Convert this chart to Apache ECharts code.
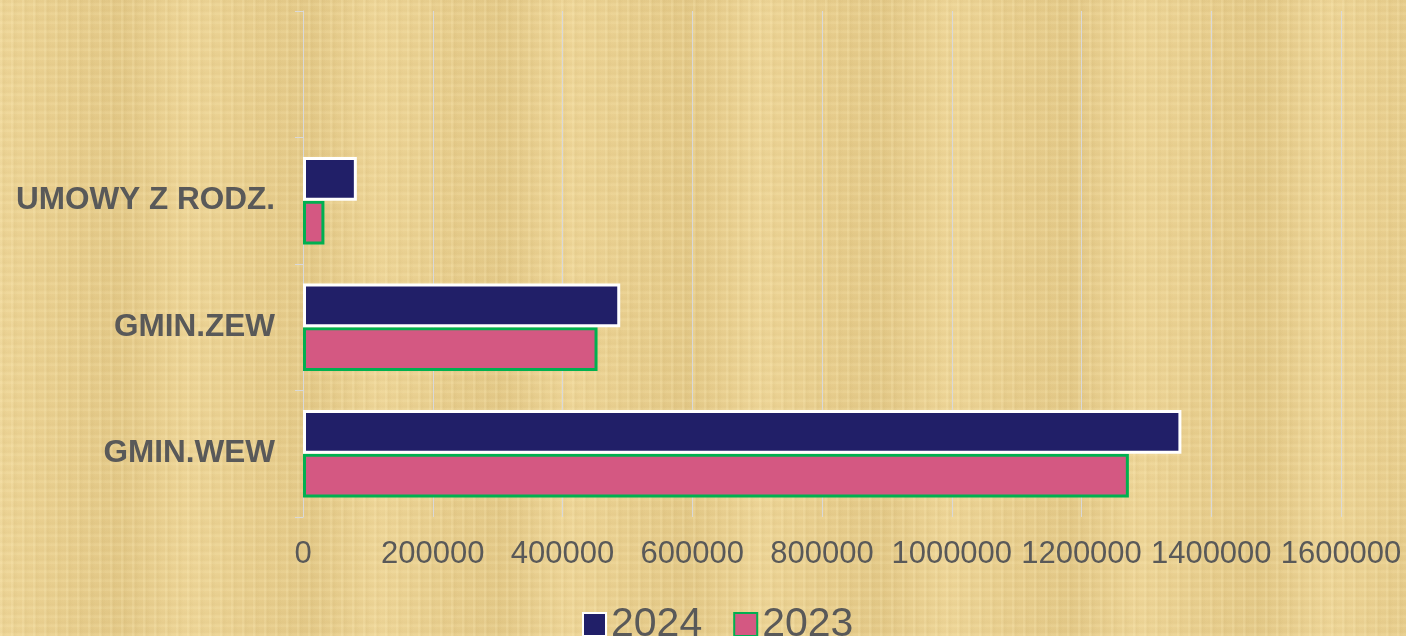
<!DOCTYPE html>
<html>
<head>
<meta charset="utf-8">
<script src="https://cdn.jsdelivr.net/npm/echarts@6/dist/echarts.min.js"></script>
<style>
  html, body { margin: 0; padding: 0; }
  #chart {
    width: 1406px; height: 636px;
    background-color: #E8CE8E;
    background-image:
      repeating-linear-gradient(90deg, rgba(255,240,190,0.18) 0px, rgba(255,240,190,0.18) 2px, rgba(190,160,90,0.10) 3px, rgba(190,160,90,0) 7px, rgba(255,240,190,0) 11px),
      repeating-linear-gradient(0deg, rgba(255,240,190,0.12) 0px, rgba(255,240,190,0.12) 2px, rgba(190,160,90,0.08) 4px, rgba(190,160,90,0) 9px),
      repeating-linear-gradient(90deg, rgba(255,235,180,0.25) 0px, rgba(255,235,180,0) 60px, rgba(200,170,100,0.15) 120px, rgba(255,235,180,0.25) 190px);
  }
</style>
</head>
<body>
<div id="chart"></div>
<script>
const categories = ['GMIN.WEW', 'GMIN.ZEW', 'UMOWY Z RODZ.', ''];
const values2024 = [1354000, 489000, 83000, null];
const values2023 = [1273000, 454000, 33000, null];
const xTicks = [0, 200000, 400000, 600000, 800000, 1000000, 1200000, 1400000, 1600000];

const chart = echarts.init(document.getElementById('chart'), null, { renderer: 'canvas' });
chart.setOption({
  backgroundColor: 'transparent',
  animation: false,
  grid: { left: 303, right: 65, top: 11, bottom: 119, containLabel: false, outerBoundsMode: 'none' },
  legend: {
    left: 577, top: 599,
    icon: 'rect',
    itemWidth: 23, itemHeight: 23, itemGap: 31,
    textStyle: { fontSize: 41, color: '#595959', fontFamily: 'Liberation Sans, Arial, sans-serif' },
    data: ['2024', '2023']
  },
  xAxis: {
    type: 'value',
    min: xTicks[0], max: xTicks[xTicks.length - 1], interval: 200000,
    axisLine: { show: false },
    axisTick: { show: false },
    splitLine: { show: true, lineStyle: { color: '#D9D9D9', width: 1 } },
    axisLabel: {
      fontSize: 31, color: '#595959', margin: 22,
      fontFamily: 'Liberation Sans, Arial, sans-serif',
      showMaxLabel: true, showMinLabel: true, hideOverlap: false,
      formatter: function (v) { return String(v); }
    }
  },
  yAxis: {
    type: 'category',
    data: categories,
    axisLine: { show: true, lineStyle: { color: '#D9D9D9', width: 1 } },
    axisTick: { show: true, length: 8, lineStyle: { color: '#D9D9D9' } },
    axisLabel: { fontSize: 31.5, fontWeight: 'bold', color: '#595959', margin: 28, fontFamily: 'Liberation Sans, Arial, sans-serif' }
  },
  series: [
    {
      name: '2024', type: 'bar', data: values2024,
      barGap: '0%', barCategoryGap: '31%',
      itemStyle: { color: '#211F68', borderColor: '#FFFFFF', borderWidth: 3 }
    },
    {
      name: '2023', type: 'bar', data: values2023,
      barGap: '0%', barCategoryGap: '31%',
      z: 1,
      itemStyle: { color: '#D45882', borderColor: '#00B050', borderWidth: 3 }
    }
  ]
});
</script>
</body>
</html>
